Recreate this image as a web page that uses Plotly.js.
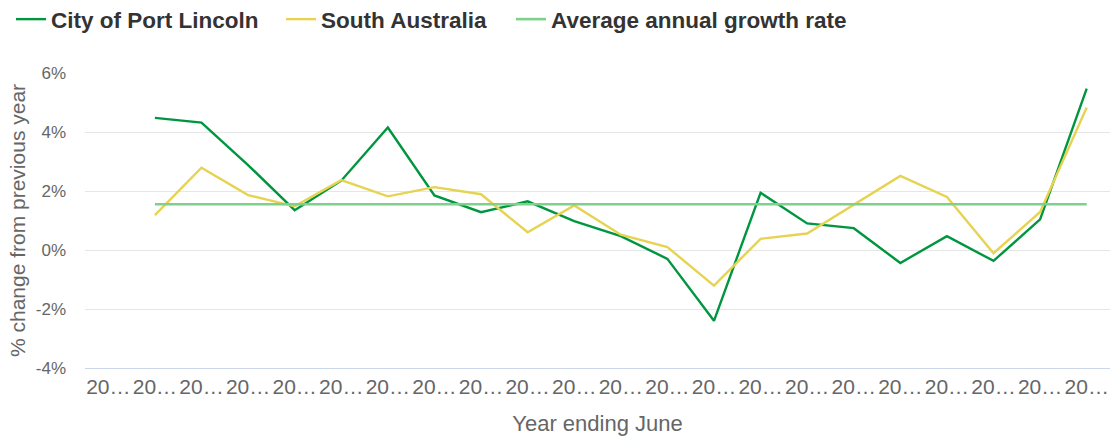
<!DOCTYPE html>
<html>
<head>
<meta charset="utf-8">
<script src="https://cdn.plot.ly/plotly-3.0.1.min.js"></script>
<style>
html,body{margin:0;padding:0;background:#fff;}
#chart{width:1116px;height:441px;}
</style>
</head>
<body>
<div id="chart"></div>
<script>
const years = ["2002","2003","2004","2005","2006","2007","2008","2009","2010","2011","2012",
               "2013","2014","2015","2016","2017","2018","2019","2020","2021","2022","2023"];
const tickLabels = ["20…","20…","20…","20…","20…","20…","20…","20…","20…","20…","20…",
                    "20…","20…","20…","20…","20…","20…","20…","20…","20…","20…","20…"];
const yTickVals = [-4, -2, 0, 2, 4, 6];
const yTickText = ["-4%", "-2%", "0%", "2%", "4%", "6%"];
const portLincoln = [null, 4.48, 4.32, 2.88, 1.35, 2.35, 4.15, 1.85, 1.28, 1.65, 0.98, 0.47,
                     -0.30, -2.40, 1.94, 0.90, 0.74, -0.44, 0.47, -0.37, 1.04, 5.47];
const southAustralia = [null, 1.18, 2.79, 1.86, 1.48, 2.37, 1.82, 2.13, 1.89, 0.60, 1.51, 0.52,
                        0.10, -1.21, 0.38, 0.56, 1.53, 2.51, 1.80, -0.11, 1.29, 4.83];
const averageRate = 1.55;
const avgYears = years.slice(1);

const font = "'Liberation Sans', Arial, sans-serif";

const traces = [
  {x: years, y: portLincoln, type: 'scatter', mode: 'lines', name: 'City of Port Lincoln',
   line: {color: '#00963f', width: 2.4}, hoverinfo: 'skip', legend: 'legend'},
  {x: years, y: southAustralia, type: 'scatter', mode: 'lines', name: 'South Australia',
   line: {color: '#e6d352', width: 2.4}, hoverinfo: 'skip', legend: 'legend2'},
  {x: avgYears, y: avgYears.map(() => averageRate), type: 'scatter', mode: 'lines',
   name: 'Average annual growth rate', line: {color: '#7fd08a', width: 2.6}, hoverinfo: 'skip', legend: 'legend3'}
];

function leg(px) {
  return {orientation: 'h', xref: 'container', yref: 'container', x: px / 1116, y: 1 - 19.5 / 441,
          xanchor: 'left', yanchor: 'middle', font: {size: 22.5, color: '#333', weight: 'bold'},
          itemwidth: 30, bgcolor: 'rgba(0,0,0,0)'};
}

const layout = {
  width: 1116, height: 441,
  margin: {l: 85, r: 6, t: 73, b: 73},
  paper_bgcolor: '#fff', plot_bgcolor: '#fff',
  font: {family: font, color: '#666'},
  showlegend: true,
  legend: leg(11),
  legend2: leg(281),
  legend3: leg(511),
  xaxis: {type: 'category', tickmode: 'array', tickvals: years, ticktext: tickLabels,
          range: [-0.5, 21.5], showgrid: false, showline: true, linecolor: '#ccd6eb', linewidth: 1,
          ticks: '', tickfont: {size: 21, color: '#666'}, zeroline: false,
          title: {text: 'Year ending June', font: {size: 22, color: '#666'}, standoff: 18}},
  yaxis: {range: [-4, 6], tickmode: 'array', tickvals: yTickVals, ticktext: yTickText,
          showgrid: true, gridcolor: '#e6e6e6', gridwidth: 1, zeroline: false, showline: false,
          ticks: '', tickfont: {size: 17, color: '#666'}, ticklabelstandoff: 18,
          title: {text: '% change from previous year', font: {size: 21, color: '#666'}, standoff: 4}}
};

Plotly.newPlot('chart', traces, layout, {displayModeBar: false, staticPlot: true});
</script>
</body>
</html>
